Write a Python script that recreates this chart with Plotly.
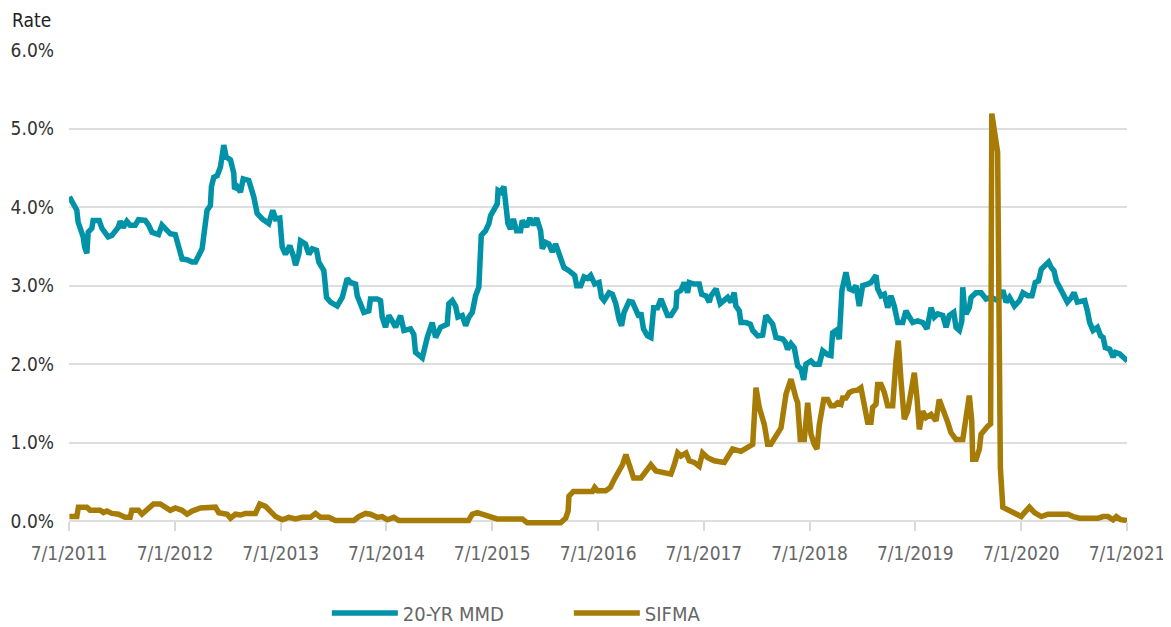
import plotly.graph_objects as go
from datetime import datetime

# ---- data (x as decimal years, values in %) ----
mmd_t = [2011.500, 2011.523, 2011.570, 2011.582, 2011.630, 2011.644, 2011.665, 2011.677, 2011.712, 2011.724,
         2011.781, 2011.807, 2011.866, 2011.901, 2011.961, 2011.980, 2012.008, 2012.043, 2012.074, 2012.122,
         2012.153, 2012.216, 2012.248, 2012.280, 2012.311, 2012.342, 2012.374, 2012.422, 2012.453, 2012.500,
         2012.531, 2012.564, 2012.611, 2012.658, 2012.690, 2012.721, 2012.753, 2012.775, 2012.800, 2012.831,
         2012.841, 2012.863, 2012.895, 2012.926, 2012.957, 2012.980, 2013.021, 2013.052, 2013.059, 2013.084,
         2013.115, 2013.141, 2013.194, 2013.241, 2013.273, 2013.321, 2013.383, 2013.421, 2013.447, 2013.487,
         2013.510, 2013.541, 2013.582, 2013.620, 2013.636, 2013.667, 2013.683, 2013.730, 2013.762, 2013.794,
         2013.835, 2013.856, 2013.904, 2013.929, 2013.967, 2014.030, 2014.078, 2014.125, 2014.156, 2014.204,
         2014.220, 2014.282, 2014.329, 2014.345, 2014.409, 2014.440, 2014.456, 2014.487, 2014.519, 2014.551,
         2014.582, 2014.629, 2014.661, 2014.724, 2014.755, 2014.771, 2014.835, 2014.882, 2014.929, 2014.961,
         2015.008, 2015.071, 2015.086, 2015.119, 2015.150, 2015.172, 2015.213, 2015.245, 2015.276, 2015.308,
         2015.339, 2015.370, 2015.380, 2015.393, 2015.434, 2015.465, 2015.481, 2015.512, 2015.544, 2015.552,
         2015.576, 2015.607, 2015.623, 2015.645, 2015.670, 2015.696, 2015.727, 2015.765, 2015.781, 2015.822,
         2015.853, 2015.885, 2015.916, 2015.954, 2015.970, 2016.002, 2016.033, 2016.065, 2016.096, 2016.127,
         2016.175, 2016.222, 2016.276, 2016.295, 2016.333, 2016.364, 2016.396, 2016.427, 2016.465, 2016.506,
         2016.529, 2016.553, 2016.600, 2016.632, 2016.664, 2016.695, 2016.718, 2016.742, 2016.789, 2016.821,
         2016.853, 2016.884, 2016.900, 2016.925, 2016.963, 2016.995, 2017.021, 2017.058, 2017.090, 2017.121,
         2017.153, 2017.184, 2017.232, 2017.241, 2017.279, 2017.310, 2017.342, 2017.358, 2017.405, 2017.452,
         2017.475, 2017.516, 2017.547, 2017.563, 2017.611, 2017.651, 2017.689, 2017.721, 2017.752, 2017.783,
         2017.799, 2017.831, 2017.847, 2017.894, 2017.935, 2017.958, 2018.005, 2018.052, 2018.083, 2018.115,
         2018.147, 2018.178, 2018.242, 2018.266, 2018.288, 2018.320, 2018.351, 2018.383, 2018.415, 2018.440,
         2018.462, 2018.509, 2018.540, 2018.588, 2018.620, 2018.667, 2018.698, 2018.714, 2018.746, 2018.777,
         2018.802, 2018.840, 2018.872, 2018.904, 2018.935, 2018.966, 2018.998, 2019.045, 2019.077, 2019.124,
         2019.140, 2019.172, 2019.203, 2019.235, 2019.266, 2019.297, 2019.330, 2019.377, 2019.408, 2019.440,
         2019.472, 2019.519, 2019.566, 2019.607, 2019.645, 2019.676, 2019.708, 2019.756, 2019.787, 2019.818,
         2019.860, 2019.881, 2019.913, 2019.936, 2019.945, 2019.962, 2019.976, 2020.007, 2020.023, 2020.071,
         2020.118, 2020.165, 2020.213, 2020.276, 2020.323, 2020.354, 2020.386, 2020.433, 2020.481, 2020.513,
         2020.560, 2020.598, 2020.629, 2020.660, 2020.686, 2020.724, 2020.755, 2020.780, 2020.806, 2020.828,
         2020.859, 2020.891, 2020.932, 2020.970, 2020.995, 2021.026, 2021.064, 2021.096, 2021.121, 2021.143,
         2021.175, 2021.216, 2021.247, 2021.270, 2021.291, 2021.332, 2021.364, 2021.386, 2021.427, 2021.468,
         2021.500]
mmd_v = [4.13, 4.06, 3.96, 3.81, 3.62, 3.49, 3.41, 3.68, 3.73, 3.83,
         3.83, 3.73, 3.62, 3.64, 3.74, 3.82, 3.74, 3.82, 3.77, 3.77,
         3.84, 3.83, 3.77, 3.68, 3.66, 3.65, 3.77, 3.70, 3.66, 3.65,
         3.47, 3.34, 3.33, 3.30, 3.30, 3.38, 3.47, 3.70, 3.96, 4.02,
         4.26, 4.38, 4.40, 4.51, 4.79, 4.64, 4.60, 4.43, 4.23, 4.26,
         4.19, 4.36, 4.34, 4.13, 3.92, 3.85, 3.79, 3.96, 3.85, 3.86,
         3.49, 3.40, 3.51, 3.36, 3.26, 3.40, 3.57, 3.53, 3.40, 3.47,
         3.45, 3.30, 3.19, 2.85, 2.79, 2.74, 2.85, 3.09, 3.04, 3.02,
         2.87, 2.66, 2.68, 2.83, 2.83, 2.81, 2.60, 2.47, 2.62, 2.55,
         2.47, 2.62, 2.43, 2.45, 2.38, 2.15, 2.08, 2.34, 2.53, 2.34,
         2.47, 2.51, 2.77, 2.81, 2.74, 2.60, 2.62, 2.49, 2.60, 2.66,
         2.87, 2.98, 3.36, 3.64, 3.70, 3.79, 3.89, 3.96, 4.04, 4.21,
         4.19, 4.26, 3.96, 3.79, 3.72, 3.85, 3.70, 3.70, 3.83, 3.75,
         3.86, 3.77, 3.86, 3.70, 3.47, 3.55, 3.53, 3.43, 3.53, 3.40,
         3.23, 3.19, 3.13, 3.00, 3.00, 3.11, 3.09, 3.13, 3.02, 3.04,
         2.85, 2.81, 2.91, 2.89, 2.77, 2.57, 2.49, 2.66, 2.80, 2.79,
         2.68, 2.60, 2.66, 2.45, 2.36, 2.34, 2.72, 2.72, 2.83, 2.72,
         2.62, 2.62, 2.72, 2.91, 2.94, 3.04, 2.91, 3.04, 3.02, 3.02,
         2.89, 2.87, 2.79, 2.87, 2.96, 2.77, 2.81, 2.85, 2.79, 2.91,
         2.74, 2.68, 2.53, 2.53, 2.51, 2.43, 2.36, 2.37, 2.62, 2.57,
         2.51, 2.34, 2.32, 2.28, 2.19, 2.26, 2.21, 1.98, 1.94, 1.80,
         2.00, 2.04, 2.00, 2.00, 2.17, 2.12, 2.11, 2.40, 2.43, 2.32,
         2.94, 3.17, 2.96, 2.94, 3.00, 2.74, 3.00, 3.02, 3.04, 3.13,
         2.96, 2.87, 2.89, 2.72, 2.87, 2.74, 2.53, 2.53, 2.68, 2.60,
         2.53, 2.55, 2.53, 2.45, 2.72, 2.60, 2.64, 2.62, 2.47, 2.62,
         2.66, 2.47, 2.43, 2.55, 2.98, 2.70, 2.64, 2.72, 2.85, 2.91,
         2.91, 2.83, 2.85, 2.81, 2.94, 2.79, 2.85, 2.74, 2.81, 2.91,
         2.87, 2.87, 3.04, 3.06, 3.21, 3.26, 3.30, 3.23, 3.19, 3.06,
         2.98, 2.89, 2.79, 2.85, 2.91, 2.79, 2.81, 2.81, 2.68, 2.53,
         2.43, 2.47, 2.36, 2.34, 2.21, 2.19, 2.09, 2.15, 2.13, 2.09,
         2.04]

sifma_t = [2011.500, 2011.570, 2011.585, 2011.665, 2011.696, 2011.791, 2011.822, 2011.854, 2011.901, 2011.964,
           2012.027, 2012.074, 2012.090, 2012.153, 2012.185, 2012.248, 2012.295, 2012.358, 2012.406, 2012.453,
           2012.500, 2012.564, 2012.611, 2012.658, 2012.737, 2012.800, 2012.879, 2012.910, 2012.990, 2013.021,
           2013.068, 2013.115, 2013.162, 2013.257, 2013.298, 2013.352, 2013.399, 2013.447, 2013.510, 2013.572,
           2013.636, 2013.699, 2013.778, 2013.825, 2013.872, 2013.951, 2014.014, 2014.188, 2014.235, 2014.298,
           2014.345, 2014.409, 2014.456, 2014.504, 2014.566, 2014.613, 2015.273, 2015.308, 2015.355, 2015.402,
           2015.450, 2015.481, 2015.544, 2015.781, 2015.828, 2016.143, 2016.191, 2016.214, 2016.222, 2016.264,
           2016.444, 2016.465, 2016.491, 2016.569, 2016.612, 2016.648, 2016.695, 2016.727, 2016.759, 2016.789,
           2016.832, 2016.900, 2016.948, 2016.995, 2017.043, 2017.153, 2017.184, 2017.216, 2017.248, 2017.279,
           2017.327, 2017.358, 2017.405, 2017.452, 2017.484, 2017.532, 2017.594, 2017.689, 2017.721, 2017.768,
           2017.847, 2017.910, 2017.958, 2017.989, 2018.020, 2018.068, 2018.099, 2018.130, 2018.178, 2018.226,
           2018.273, 2018.320, 2018.367, 2018.383, 2018.408, 2018.446, 2018.478, 2018.509, 2018.540, 2018.566,
           2018.588, 2018.630, 2018.667, 2018.698, 2018.730, 2018.762, 2018.793, 2018.809, 2018.840, 2018.872,
           2018.904, 2018.951, 2018.982, 2019.014, 2019.045, 2019.077, 2019.093, 2019.124, 2019.140, 2019.172,
           2019.203, 2019.235, 2019.282, 2019.313, 2019.335, 2019.361, 2019.392, 2019.424, 2019.456, 2019.487,
           2019.512, 2019.534, 2019.566, 2019.597, 2019.645, 2019.692, 2019.722, 2019.770, 2019.803, 2019.833,
           2019.881, 2019.945, 2019.976, 2020.007, 2020.030, 2020.039, 2020.071, 2020.102, 2020.118, 2020.150,
           2020.181, 2020.208, 2020.219, 2020.274, 2020.284, 2020.300, 2020.323, 2020.338, 2020.386, 2020.449,
           2020.496, 2020.527, 2020.574, 2020.622, 2020.686, 2020.749, 2020.938, 2020.986, 2021.048, 2021.222,
           2021.270, 2021.316, 2021.364, 2021.395, 2021.436, 2021.500]
sifma_v = [0.06, 0.06, 0.18, 0.18, 0.14, 0.14, 0.11, 0.13, 0.10, 0.09,
           0.05, 0.05, 0.14, 0.14, 0.09, 0.17, 0.22, 0.22, 0.17, 0.14,
           0.17, 0.14, 0.09, 0.13, 0.17, 0.18, 0.18, 0.11, 0.09, 0.04,
           0.09, 0.08, 0.10, 0.10, 0.22, 0.19, 0.13, 0.06, 0.02, 0.05,
           0.03, 0.05, 0.05, 0.10, 0.05, 0.05, 0.01, 0.01, 0.06, 0.10,
           0.09, 0.05, 0.06, 0.02, 0.05, 0.01, 0.01, 0.09, 0.11, 0.09,
           0.06, 0.06, 0.03, 0.03, -0.02, -0.02, 0.04, 0.13, 0.32, 0.38,
           0.38, 0.43, 0.39, 0.39, 0.43, 0.53, 0.64, 0.72, 0.85, 0.72,
           0.55, 0.55, 0.64, 0.72, 0.64, 0.62, 0.60, 0.72, 0.87, 0.83,
           0.87, 0.77, 0.75, 0.70, 0.87, 0.81, 0.77, 0.75, 0.81, 0.92,
           0.89, 0.94, 0.98, 1.70, 1.45, 1.23, 0.98, 0.98, 1.09, 1.19,
           1.62, 1.81, 1.57, 1.51, 1.04, 1.04, 1.51, 1.11, 0.98, 0.92,
           1.23, 1.55, 1.55, 1.47, 1.47, 1.51, 1.49, 1.57, 1.57, 1.64,
           1.66, 1.67, 1.70, 1.49, 1.26, 1.26, 1.45, 1.49, 1.74, 1.74,
           1.64, 1.47, 1.47, 2.04, 2.30, 1.79, 1.30, 1.40, 1.70, 1.89,
           1.57, 1.17, 1.40, 1.32, 1.36, 1.28, 1.55, 1.40, 1.26, 1.13,
           1.04, 1.04, 1.28, 1.60, 1.28, 0.79, 0.79, 0.92, 1.11, 1.17,
           1.21, 1.24, 5.19, 4.70, 1.70, 0.68, 0.18, 0.17, 0.14, 0.11,
           0.06, 0.11, 0.18, 0.11, 0.06, 0.09, 0.09, 0.06, 0.04, 0.04,
           0.06, 0.06, 0.02, 0.06, 0.02, 0.01]

tick_dates = ["2011-07-01", "2012-07-01", "2013-07-01", "2014-07-01", "2015-07-01", "2016-07-01",
              "2017-07-01", "2018-07-01", "2019-07-01", "2020-07-01", "2021-07-01"]
tick_text = ["7/1/2011", "7/1/2012", "7/1/2013", "7/1/2014", "7/1/2015", "7/1/2016",
             "7/1/2017", "7/1/2018", "7/1/2019", "7/1/2020", "7/1/2021"]
y_ticks = [0, 1, 2, 3, 4, 5, 6]
y_text = ["0.0%", "1.0%", "2.0%", "3.0%", "4.0%", "5.0%", "6.0%"]


def dec2date(t):
    y = int(t)
    start = datetime(y, 1, 1)
    end = datetime(y + 1, 1, 1)
    return start + (end - start) * (t - y)


FONT = "DejaVu Sans Condensed, Liberation Sans Narrow, sans-serif"
TEAL = "#0092a6"
GOLD = "#a67b06"

fig = go.Figure()
fig.add_trace(go.Scatter(x=[dec2date(t) for t in mmd_t], y=mmd_v, mode="lines", name="20-YR MMD",
                         line=dict(color=TEAL, width=5.5, shape="linear"), hoverinfo="skip"))
fig.add_trace(go.Scatter(x=[dec2date(t) for t in sifma_t], y=sifma_v, mode="lines", name="SIFMA",
                         line=dict(color=GOLD, width=5.5, shape="linear"), hoverinfo="skip"))

# the page adds an 8px body margin, so the figure is sized 8px smaller
fig.update_layout(
    width=1163, height=619,
    margin=dict(l=61, r=44, t=42, b=101, autoexpand=False),
    paper_bgcolor="white", plot_bgcolor="white",
    font=dict(family=FONT, size=19, color="#666666"),
    showlegend=True,
    legend=dict(orientation="h", x=0.2437, xanchor="left", y=-0.183, yanchor="middle",
                font=dict(family=FONT, size=20, color="#666666"), itemwidth=66,
                entrywidth=161, bgcolor="rgba(0,0,0,0)"),
    xaxis=dict(type="date", range=["2011-07-01", "2021-07-01"], tickvals=tick_dates, ticktext=tick_text,
               showgrid=False, zeroline=False, showline=False, automargin=False,
               ticks="outside", ticklen=9, tickwidth=2, tickcolor="#d9d9d9",
               anchor="free", position=0.0099, ticklabelstandoff=6,
               tickfont=dict(family=FONT, size=19, color="#666666")),
    yaxis=dict(range=[-0.06, 6.0], tickvals=y_ticks, ticktext=y_text, automargin=False,
               showgrid=True, gridcolor="#dedede", gridwidth=2, zeroline=False, showline=False,
               ticks="", ticklabelstandoff=14,
               tickfont=dict(family=FONT, size=19, color="#333333")),
    annotations=[dict(text="Rate", xref="paper", yref="paper", x=-0.0558, y=1.063,
                      xanchor="left", yanchor="middle", showarrow=False,
                      font=dict(family=FONT, size=19, color="#222222"))],
)

fig.write_html("out.html")
